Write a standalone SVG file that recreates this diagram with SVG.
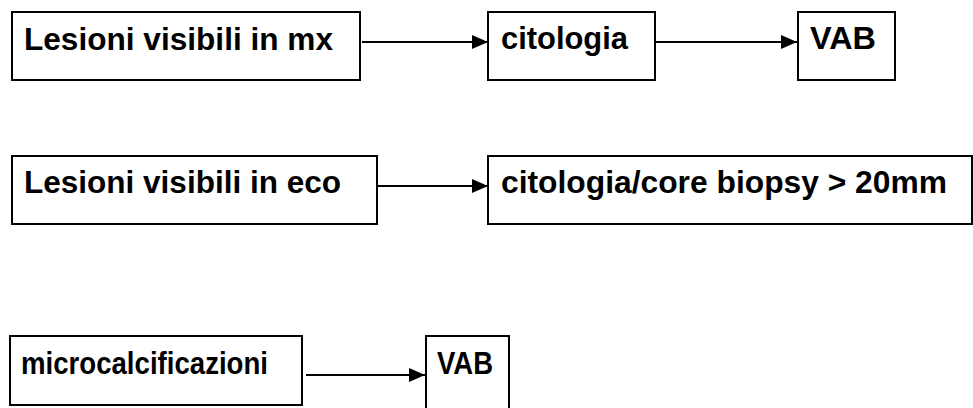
<svg xmlns="http://www.w3.org/2000/svg" width="973" height="408" viewBox="0 0 973 408">
<style>
.box{fill:#fff;stroke:#000;stroke-width:2}
.t{font-family:"Liberation Sans",Arial,sans-serif;font-weight:bold;font-size:31px;fill:#000}
.c{stroke:#000;stroke-width:2;fill:none}
</style>
<defs>
<marker id="ah" viewBox="0 0 16 14" refX="16" refY="7" markerWidth="16" markerHeight="14" markerUnits="userSpaceOnUse" orient="auto">
<path d="M0,0 L16,7 L0,14 Z" fill="#000"/>
</marker>
</defs>
<rect width="973" height="408" fill="#fff"/>
<g id="connectors">
<line class="c" x1="362" y1="42" x2="488" y2="42" marker-end="url(#ah)"/>
<line class="c" x1="656" y1="42" x2="797" y2="42" marker-end="url(#ah)"/>
<line class="c" x1="378" y1="186" x2="488" y2="186" marker-end="url(#ah)"/>
<line class="c" x1="306" y1="375" x2="425" y2="375" marker-end="url(#ah)"/>
</g>
<g id="n1"><rect class="box" x="12" y="12" width="348" height="68"/><text class="t" x="24" y="50" textLength="309" lengthAdjust="spacingAndGlyphs">Lesioni visibili in mx</text></g>
<g id="n2"><rect class="box" x="488" y="12" width="167" height="68"/><text class="t" x="501" y="49" textLength="127" lengthAdjust="spacingAndGlyphs">citologia</text></g>
<g id="n3"><rect class="box" x="798" y="12" width="97" height="68"/><text class="t" x="810" y="49" textLength="66" lengthAdjust="spacingAndGlyphs">VAB</text></g>
<g id="n4"><rect class="box" x="12" y="156" width="365" height="68"/><text class="t" x="24" y="193" textLength="317" lengthAdjust="spacingAndGlyphs">Lesioni visibili in eco</text></g>
<g id="n5"><rect class="box" x="488" y="156" width="484" height="68"/><text class="t" x="501" y="193" textLength="446" lengthAdjust="spacingAndGlyphs">citologia/core biopsy &gt; 20mm</text></g>
<g id="n6"><rect class="box" x="10" y="336" width="292" height="69"/><text class="t" x="21" y="374" textLength="247" lengthAdjust="spacingAndGlyphs">microcalcificazioni</text></g>
<g id="n7"><rect class="box" x="426" y="336" width="83" height="75"/><text class="t" x="437" y="374" textLength="56" lengthAdjust="spacingAndGlyphs">VAB</text></g>
</svg>
